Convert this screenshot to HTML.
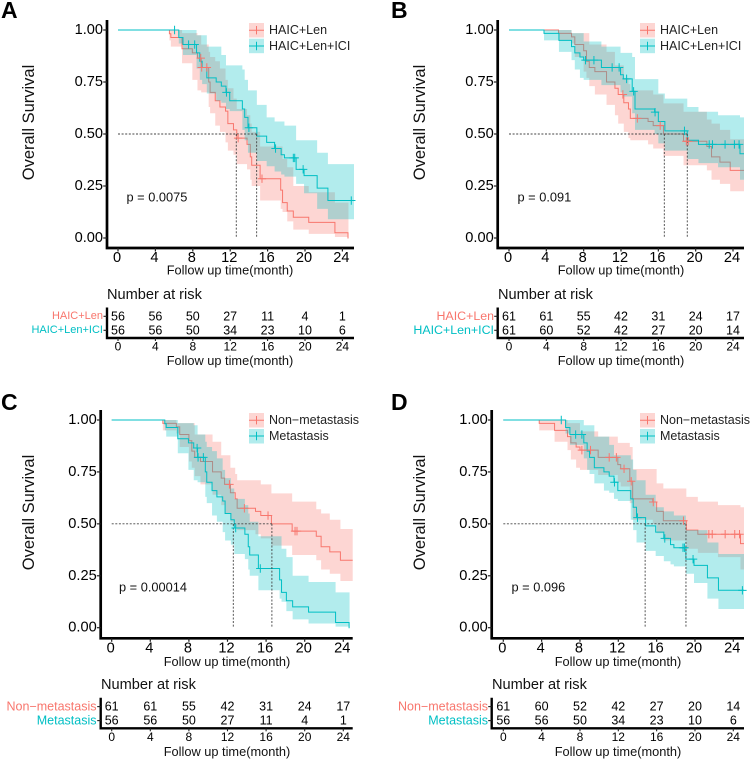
<!DOCTYPE html>
<html lang="en">
<head>
<meta charset="utf-8">
<title>Kaplan-Meier overall survival panels</title>
<style>
html,body{margin:0;padding:0;background:#fff;width:750px;height:764px;overflow:hidden}
svg{display:block;font-family:"Liberation Sans",Arial,sans-serif}
text{fill:#000}
.letter{font-size:23px;font-weight:bold}
.ytitle{font-size:16.5px;text-anchor:middle;dominant-baseline:central;fill:#111}
.xtitle{font-size:12.8px;text-anchor:middle;dominant-baseline:central;fill:#111}
.leg{font-size:12.5px;dominant-baseline:central;fill:#222}
.pval{font-size:12.8px;dominant-baseline:central;fill:#111}
.risk-title{font-size:14.6px;dominant-baseline:central;fill:#111}
.risk-label{text-anchor:end;dominant-baseline:central}
.red{fill:#F8766D}
.teal{fill:#00BFC4}
</style>
</head>
<body>
<svg xmlns="http://www.w3.org/2000/svg" width="750" height="764" viewBox="0 0 750 764">
  <rect x="0" y="0" width="750" height="764" fill="#fff"/>

  <g id="panel-a">
    <text class="letter" x="1" y="18">A</text>
    <text class="ytitle" transform="translate(29,122.5) rotate(-90)">Overall Survival</text>
    <text class="xtitle" x="230" y="270">Follow up time(month)</text>
    <text class="pval" x="126.5" y="197">p = 0.0075</text>
    <g>
      <rect x="249" y="23" width="15" height="14.5" fill="#F8766D" fill-opacity=".3"/>
      <path d="M249 30.2H264M256.5 26V34.4" stroke="#F8766D" stroke-width="1" fill="none"/>
      <text class="leg" x="269" y="30">HAIC+Len</text>
    </g>
    <g>
      <rect x="249" y="38.7" width="15" height="14.5" fill="#00BFC4" fill-opacity=".3"/>
      <path d="M249 46H264M256.5 41.8V50.2" stroke="#00BFC4" stroke-width="1" fill="none"/>
      <text class="leg" x="269" y="46">HAIC+Len+ICI</text>
    </g>
    <text class="risk-title" x="107" y="295">Number at risk</text>
    <text class="risk-label red" style="font-size:11px" x="103" y="316">HAIC+Len</text>
    <text class="risk-label teal" style="font-size:11px" x="103" y="330">HAIC+Len+ICI</text>
    <text class="xtitle" x="230" y="360.7">Follow up time(month)</text>
  </g>

  <g id="panel-b">
    <text class="letter" x="391" y="18">B</text>
    <text class="ytitle" transform="translate(420,122.5) rotate(-90)">Overall Survival</text>
    <text class="xtitle" x="621" y="270">Follow up time(month)</text>
    <text class="pval" x="517.5" y="197">p = 0.091</text>
    <g>
      <rect x="640" y="23" width="15" height="14.5" fill="#F8766D" fill-opacity=".3"/>
      <path d="M640 30.2H655M647.5 26V34.4" stroke="#F8766D" stroke-width="1" fill="none"/>
      <text class="leg" x="660" y="30">HAIC+Len</text>
    </g>
    <g>
      <rect x="640" y="38.7" width="15" height="14.5" fill="#00BFC4" fill-opacity=".3"/>
      <path d="M640 46H655M647.5 41.8V50.2" stroke="#00BFC4" stroke-width="1" fill="none"/>
      <text class="leg" x="660" y="46">HAIC+Len+ICI</text>
    </g>
    <text class="risk-title" x="498" y="295">Number at risk</text>
    <text class="risk-label red" style="font-size:12.4px" x="494" y="316">HAIC+Len</text>
    <text class="risk-label teal" style="font-size:12.4px" x="494" y="330">HAIC+Len+ICI</text>
    <text class="xtitle" x="621" y="360.7">Follow up time(month)</text>
  </g>

  <g id="panel-c">
    <text class="letter" x="1" y="410">C</text>
    <text class="ytitle" transform="translate(29,512.5) rotate(-90)">Overall Survival</text>
    <text class="xtitle" x="227" y="661.7">Follow up time(month)</text>
    <text class="pval" x="119" y="587">p = 0.00014</text>
    <g>
      <rect x="249" y="413" width="15" height="14.5" fill="#F8766D" fill-opacity=".3"/>
      <path d="M249 420.2H264M256.5 416V424.4" stroke="#F8766D" stroke-width="1" fill="none"/>
      <text class="leg" x="269" y="420">Non−metastasis</text>
    </g>
    <g>
      <rect x="249" y="429" width="15" height="14.5" fill="#00BFC4" fill-opacity=".3"/>
      <path d="M249 436H264M256.5 431.8V440.2" stroke="#00BFC4" stroke-width="1" fill="none"/>
      <text class="leg" x="269" y="436">Metastasis</text>
    </g>
    <text class="risk-title" x="101" y="685">Number at risk</text>
    <text class="risk-label red" style="font-size:12.5px" x="96.5" y="706.7">Non−metastasis</text>
    <text class="risk-label teal" style="font-size:12.5px" x="96.5" y="720.7">Metastasis</text>
    <text class="xtitle" x="227" y="751.7">Follow up time(month)</text>
  </g>

  <g id="panel-d">
    <text class="letter" x="391" y="410">D</text>
    <text class="ytitle" transform="translate(420,512.5) rotate(-90)">Overall Survival</text>
    <text class="xtitle" x="618" y="661.7">Follow up time(month)</text>
    <text class="pval" x="511.5" y="587">p = 0.096</text>
    <g>
      <rect x="640" y="413" width="15" height="14.5" fill="#F8766D" fill-opacity=".3"/>
      <path d="M640 420.2H655M647.5 416V424.4" stroke="#F8766D" stroke-width="1" fill="none"/>
      <text class="leg" x="660" y="420">Non−metastasis</text>
    </g>
    <g>
      <rect x="640" y="429" width="15" height="14.5" fill="#00BFC4" fill-opacity=".3"/>
      <path d="M640 436H655M647.5 431.8V440.2" stroke="#00BFC4" stroke-width="1" fill="none"/>
      <text class="leg" x="660" y="436">Metastasis</text>
    </g>
    <text class="risk-title" x="492" y="685">Number at risk</text>
    <text class="risk-label red" style="font-size:12.5px" x="488" y="706.7">Non−metastasis</text>
    <text class="risk-label teal" style="font-size:12.5px" x="488" y="720.7">Metastasis</text>
    <text class="xtitle" x="618" y="751.7">Follow up time(month)</text>
  </g>
</svg>

<script>
// Tick values and labels
const xTicks = [0, 4, 8, 12, 16, 20, 24];
const yTicks = [0, 0.25, 0.5, 0.75, 1];
const yTickLabels = ["0.00", "0.25", "0.50", "0.75", "1.00"];

// Curve: HAIC+Len / Metastasis
const metLenTimes = [0, 5.5, 5.65, 6.85, 7.95, 8.5, 8.9, 9.7, 9.85, 10.4, 10.9, 11.5, 11.75, 12.35, 12.7, 13.8, 14.15, 14.3, 15.2, 17.4, 17.6, 18.1, 18.75, 20.4, 23.2, 24.6];
const metLenSurvival = [1, 0.982, 0.964, 0.91, 0.89, 0.865, 0.82, 0.75, 0.70, 0.66, 0.63, 0.61, 0.55, 0.52, 0.48, 0.45, 0.39, 0.35, 0.285, 0.23, 0.17, 0.13, 0.10, 0.075, 0.025, 0];
const metLenLower = [1, 0.95, 0.92, 0.84, 0.76, 0.71, 0.70, 0.63, 0.60, 0.54, 0.51, 0.46, 0.42, 0.40, 0.355, 0.33, 0.28, 0.25, 0.18, 0.14, 0.125, 0.08, 0.04, 0.02, 0.005, 0];
const metLenUpper = [1, 1, 1, 0.985, 0.985, 0.975, 0.93, 0.895, 0.87, 0.85, 0.815, 0.76, 0.72, 0.67, 0.62, 0.59, 0.55, 0.51, 0.44, 0.44, 0.38, 0.34, 0.25, 0.22, 0.17, 0.17];
const metLenCensored = [8.85, 8.95, 9.5, 12.85, 15.4];
const metLenEnd = 24.65;

// Curve: HAIC+Len+ICI (A) / Metastasis (D)
const metIciTimes = [0, 6.5, 6.95, 8.4, 8.75, 9.0, 9.5, 10.5, 11.05, 11.55, 11.95, 13.3, 13.55, 13.9, 14.85, 15.9, 16.75, 17.45, 17.8, 19.05, 19.9, 21.3, 22.45];
const metIciSurvival = [1, 0.964, 0.93, 0.89, 0.85, 0.82, 0.77, 0.75, 0.73, 0.70, 0.66, 0.62, 0.58, 0.53, 0.49, 0.46, 0.43, 0.40, 0.385, 0.33, 0.30, 0.24, 0.18];
const metIciLower = [1, 0.935, 0.88, 0.815, 0.76, 0.74, 0.695, 0.66, 0.65, 0.62, 0.61, 0.52, 0.47, 0.41, 0.37, 0.345, 0.32, 0.305, 0.295, 0.26, 0.215, 0.14, 0.09];
const metIciUpper = [1, 1, 1, 0.975, 0.975, 0.975, 0.92, 0.92, 0.88, 0.83, 0.83, 0.81, 0.76, 0.71, 0.64, 0.58, 0.56, 0.56, 0.54, 0.47, 0.47, 0.41, 0.355];
const metIciCensored = [6.05, 7.55, 8.2, 11.6, 14, 16.85, 18.75, 18.9, 19.8, 24.95];
const metIciEnd = 25.3;

// Curve: HAIC+Len (B) / Non-metastasis (C)
const nonLenTimes = [0, 5.3, 6.7, 7.05, 8, 8.3, 8.6, 9.2, 10.45, 11.35, 11.7, 12.3, 12.8, 13.0, 14.9, 15.45, 16.55, 18.7, 21.2, 21.7, 22.6, 23.7];
const nonLenSurvival = [1, 0.984, 0.967, 0.93, 0.90, 0.85, 0.82, 0.80, 0.75, 0.72, 0.69, 0.65, 0.62, 0.575, 0.56, 0.54, 0.50, 0.465, 0.44, 0.39, 0.365, 0.325];
const nonLenLower = [1, 0.95, 0.935, 0.87, 0.80, 0.77, 0.73, 0.69, 0.64, 0.59, 0.55, 0.51, 0.48, 0.47, 0.45, 0.43, 0.395, 0.35, 0.325, 0.28, 0.26, 0.225];
const nonLenUpper = [1, 1, 0.985, 0.985, 0.985, 0.985, 0.93, 0.93, 0.895, 0.83, 0.83, 0.77, 0.74, 0.71, 0.71, 0.69, 0.647, 0.607, 0.57, 0.55, 0.52, 0.475];
const nonLenCensored = [12.2, 13.75, 16.2, 19.0, 19.2];
const nonLenEnd = 25.3;

// Curve: HAIC+Len+ICI (B) / Non-metastasis (D)
const nonIciTimes = [0, 3.75, 5.35, 6.7, 7.05, 7.6, 8, 9.9, 11.95, 12.25, 13.2, 13.5, 15.6, 16, 16.7, 19.1, 20.3, 22.4, 24.75];
const nonIciSurvival = [1, 0.984, 0.95, 0.92, 0.89, 0.87, 0.855, 0.82, 0.785, 0.765, 0.705, 0.62, 0.605, 0.56, 0.515, 0.47, 0.45, 0.45, 0.405];
const nonIciLower = [1, 0.95, 0.895, 0.855, 0.81, 0.77, 0.76, 0.735, 0.70, 0.68, 0.60, 0.52, 0.50, 0.455, 0.42, 0.38, 0.36, 0.34, 0.28];
const nonIciUpper = [1, 1, 1, 0.985, 0.985, 0.985, 0.945, 0.92, 0.89, 0.89, 0.87, 0.764, 0.764, 0.695, 0.67, 0.63, 0.607, 0.59, 0.58];
const nonIciCensored = [8.2, 9.1, 11.05, 11.8, 12.6, 13.35, 15.65, 18.8, 21.45, 21.8, 23.15, 24.15, 24.65];
const nonIciEnd = 25.3;

// Numbers at risk
const riskMetLen = [56, 56, 50, 27, 11, 4, 1];
const riskMetIci = [56, 56, 50, 34, 23, 10, 6];
const riskNonLen = [61, 61, 55, 42, 31, 24, 17];
const riskNonIci = [61, 60, 52, 42, 27, 20, 14];

// Median survival times per panel
const mediansA = [12.65, 14.83];
const mediansB = [16.64, 19.1];
const mediansC = [12.6, 16.6];
const mediansD = [14.8, 19.06];

const curveMetLen = {t: metLenTimes, s: metLenSurvival, lo: metLenLower, hi: metLenUpper, c: metLenCensored, end: metLenEnd};
const curveMetIci = {t: metIciTimes, s: metIciSurvival, lo: metIciLower, hi: metIciUpper, c: metIciCensored, end: metIciEnd};
const curveNonLen = {t: nonLenTimes, s: nonLenSurvival, lo: nonLenLower, hi: nonLenUpper, c: nonLenCensored, end: nonLenEnd};
const curveNonIci = {t: nonIciTimes, s: nonIciSurvival, lo: nonIciLower, hi: nonIciUpper, c: nonIciCensored, end: nonIciEnd};

const RED = "#F8766D";
const TEAL = "#00BFC4";
const NS = "http://www.w3.org/2000/svg";

function add(parent, tag, attrs, text) {
  const el = document.createElementNS(NS, tag);
  for (const k in attrs) el.setAttribute(k, attrs[k]);
  if (text !== undefined) el.textContent = text;
  parent.appendChild(el);
  return el;
}

function stepPath(times, vals, end, x, y) {
  let d = "M" + x(times[0]).toFixed(2) + " " + y(vals[0]).toFixed(2);
  for (let i = 1; i < times.length; i++) {
    if (times[i] >= end) break;
    d += "H" + x(times[i]).toFixed(2) + "V" + y(vals[i]).toFixed(2);
  }
  return d + "H" + x(end).toFixed(2);
}

function bandPath(curve, end, x, y) {
  let d = stepPath(curve.t, curve.hi, end, x, y);
  let last = 0;
  for (let i = 0; i < curve.t.length; i++) if (curve.t[i] < end) last = i;
  d += "V" + y(curve.lo[last]).toFixed(2);
  for (let i = last; i > 0; i--) {
    d += "H" + x(curve.t[i]).toFixed(2) + "V" + y(curve.lo[i - 1]).toFixed(2);
  }
  return d + "H" + x(curve.t[0]).toFixed(2) + "Z";
}

function survivalAt(curve, time) {
  let v = curve.s[0];
  for (let i = 0; i < curve.t.length; i++) if (curve.t[i] <= time) v = curve.s[i];
  return v;
}

function drawSeries(g, curve, colour, tag, axisEnd, x, y) {
  const end = Math.min(curve.end, axisEnd);
  const band = add(g, "path", {d: bandPath(curve, end, x, y), fill: colour, "fill-opacity": 0.3, stroke: "none"});
  
  
  const line = add(g, "path", {d: stepPath(curve.t, curve.s, end, x, y), fill: "none", stroke: colour, "stroke-width": 1});
  
  
}

function drawCensors(g, curve, colour, tag, x, y) {
  curve.c.forEach(function (time) {
    const cx = x(time), cy = y(survivalAt(curve, time));
    const mark = add(g, "path", {d: "M" + (cx - 4.2) + " " + cy + "H" + (cx + 4.2) + "M" + cx + " " + (cy - 4.2) + "V" + (cy + 4.2), stroke: colour, "stroke-width": 1, fill: "none"});
    
    
  });
}

function drawAxes(g, p, x, y) {
  const spine = add(g, "path", {d: "M" + p.axisL + " " + (p.yT - 10) + "V" + p.axisB + "H" + p.axisR, fill: "none", stroke: "#000", "stroke-width": 2.7});
  
  
  yTicks.forEach(function (v, i) {
    const tick = add(g, "line", {x1: p.axisL - 3.8, x2: p.axisL, y1: y(v), y2: y(v), stroke: "#222", "stroke-width": 1.2});
    
    
    const lab = add(g, "text", {x: p.axisL - 4, y: y(v), "text-anchor": "end", "dominant-baseline": "central", "font-size": 14.6, fill: "#111"}, yTickLabels[i]);
    
    
  });
  xTicks.forEach(function (v) {
    const tick = add(g, "line", {x1: x(v), x2: x(v), y1: p.axisB, y2: p.axisB + 3.5, stroke: "#222", "stroke-width": 1.2});
    
    
    const lab = add(g, "text", {x: x(v) - 1, y: p.axisB + 10.2, "text-anchor": "middle", "dominant-baseline": "central", "font-size": 14.6, fill: "#111"}, String(v));
    
    
  });
}

function drawMedians(g, p, medians, x, y) {
  const maxM = Math.max.apply(null, medians);
  const h = add(g, "line", {x1: x(0), x2: x(maxM), y1: y(0.5), y2: y(0.5), stroke: "#444", "stroke-width": 0.9, "stroke-dasharray": "2 1.6"});
  
  
  medians.forEach(function (m) {
    const v = add(g, "line", {x1: x(m), x2: x(m), y1: y(0.5), y2: y(0), stroke: "#444", "stroke-width": 0.9, "stroke-dasharray": "2 1.6"});
    
    
  });
}

function drawRisk(g, p, firstRow, secondRow, x) {
  const top = p.axisB + 59.5, bottom = p.axisB + 90;
  const spine = add(g, "path", {d: "M" + p.axisL + " " + top + "V" + bottom + "H" + p.axisR, fill: "none", stroke: "#000", "stroke-width": 2.4});
  
  
  [firstRow, secondRow].forEach(function (row, r) {
    const ry = p.axisB + (r === 0 ? 68.3 : 82.3);
    const rowTick = add(g, "line", {x1: p.axisL - 3.5, x2: p.axisL, y1: ry, y2: ry, stroke: "#222", "stroke-width": 1.1});
    
    
    row.forEach(function (n, i) {
      const cell = add(g, "text", {x: x(xTicks[i]), y: ry, "text-anchor": "middle", "dominant-baseline": "central", "font-size": 12.5, fill: "#111"}, String(n));
      
      
    });
  });
  xTicks.forEach(function (v) {
    const tick = add(g, "line", {x1: x(v), x2: x(v), y1: bottom, y2: bottom + 3, stroke: "#222", "stroke-width": 1.1});
    
    
    const lab = add(g, "text", {x: x(v), y: p.axisB + 98.6, "text-anchor": "middle", "dominant-baseline": "central", "font-size": 12, fill: "#111"}, String(v));
    
    
  });
}

function buildPanel(p) {
  const g = document.getElementById(p.id);
  const x = function (t) { return p.x0 + (p.x24 - p.x0) * t / 24; };
  const y = function (s) { return p.yB + (p.yT - p.yB) * s; };
  const axisEnd = 24 * (p.axisR - p.x0) / (p.x24 - p.x0);
  drawSeries(g, p.first, RED, "red", axisEnd, x, y);
  drawSeries(g, p.second, TEAL, "teal", axisEnd, x, y);
  drawMedians(g, p, p.medians, x, y);
  drawCensors(g, p.first, RED, "red", x, y);
  drawCensors(g, p.second, TEAL, "teal", x, y);
  drawAxes(g, p, x, y);
  drawRisk(g, p, p.riskFirst, p.riskSecond, x);
}

buildPanel({id: "panel-a", x0: 118, x24: 342.4, yT: 30, yB: 238, axisL: 107, axisB: 248, axisR: 354,
  first: curveMetLen, second: curveMetIci, riskFirst: riskMetLen, riskSecond: riskMetIci, medians: mediansA});
buildPanel({id: "panel-b", x0: 509, x24: 733, yT: 30, yB: 238, axisL: 497.7, axisB: 248, axisR: 744,
  first: curveNonLen, second: curveNonIci, riskFirst: riskNonLen, riskSecond: riskNonIci, medians: mediansB});
buildPanel({id: "panel-c", x0: 111.7, x24: 343.3, yT: 420, yB: 627.7, axisL: 100.7, axisB: 638.3, axisR: 352.7,
  first: curveNonLen, second: curveMetLen, riskFirst: riskNonLen, riskSecond: riskMetLen, medians: mediansC});
buildPanel({id: "panel-d", x0: 503.3, x24: 733.3, yT: 420, yB: 627.7, axisL: 491.7, axisB: 638.3, axisR: 744,
  first: curveNonIci, second: curveMetIci, riskFirst: riskNonIci, riskSecond: riskMetIci, medians: mediansD});
</script>
</body>
</html>
